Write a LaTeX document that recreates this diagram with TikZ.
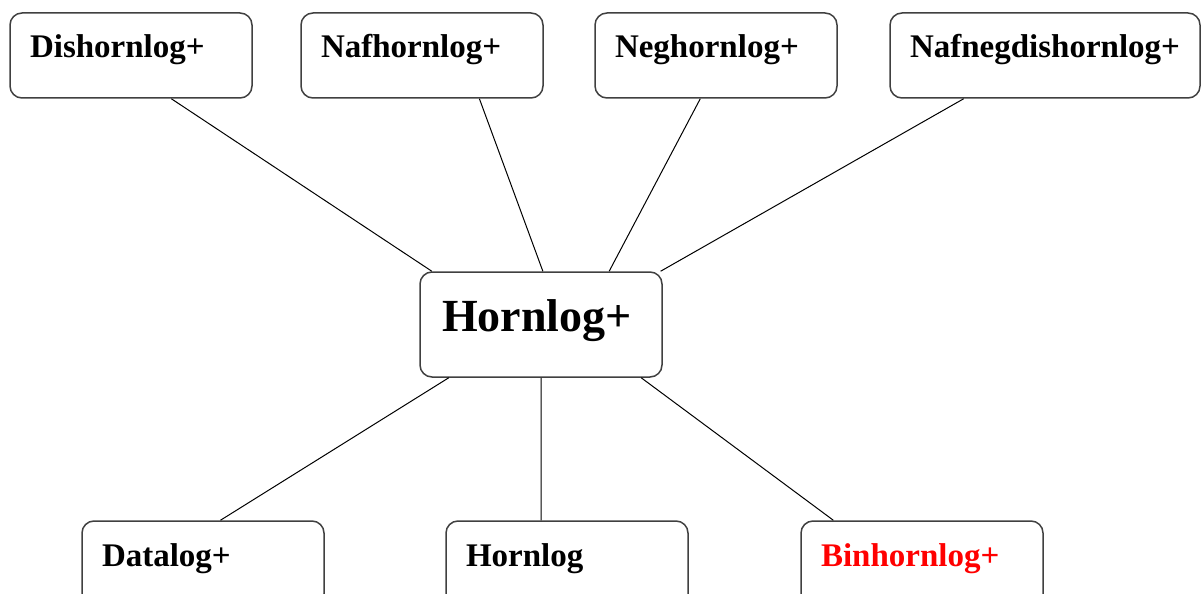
\documentclass[tikz,border=0pt]{standalone}
\usepackage{fontspec}
\setmainfont{Liberation Serif}
\usepackage{xcolor}

\tikzset{
	logbox/.style={draw=black!75,line width=0.75pt,rounded corners=6pt,fill=white,
		inner xsep=10pt,inner ysep=5pt,text width=101pt,align=left,
		text height=17.5pt,text depth=15pt,font=\fontsize{16.5}{18}\selectfont\bfseries},
	widebox/.style={logbox,text width=135pt},
	mainbox/.style={logbox,inner xsep=11pt,text width=99pt,
		text height=24.5pt,text depth=18pt,font=\fontsize{23}{26}\selectfont\bfseries},
	link/.style={line width=0.5pt}
}

\begin{document}
\begin{tikzpicture}[x=0.5pt,y=-0.5pt]
			\useasboundingbox (0,0) rectangle (1202,593);
			\clip (0,0) rectangle (1202,593);
			
			% top row
			\node[logbox] (dis) at (131,55.5) {Dishornlog+};
			\node[logbox] (naf) at (422,55.5) {Nafhornlog+};
			\node[logbox] (neg) at (716,55.5) {Neghornlog+};
			\node[widebox] (nnd) at (1045,55.5) {Nafnegdishornlog+};
			
			\node[mainbox] (hp) at (541,324.5) {Hornlog+};
			
			% bottom row
			\node[logbox] (dat) at (203,563.5) {Datalog+};
			\node[logbox] (hor) at (567,563.5) {Hornlog};
			\node[logbox,text=red] (bin) at (922,563.5) {Binhornlog+};
			
			\draw[link] (dis.-47.5) -- (hp.154.3);
			\draw[link] (naf.-37.2) -- (hp.88.9);
			\draw[link] (neg.-110.6) -- (hp.38.1);
			\draw[link] (nnd.-152) -- (hp.24.7);
			
			\draw[link] (hp.-150.8) -- (dat.68.2);
			\draw[link] (hp.-90) -- (hor.121.5);
			\draw[link] (hp.-28.9) -- (bin.154);
			\end{tikzpicture}
\end{document}
